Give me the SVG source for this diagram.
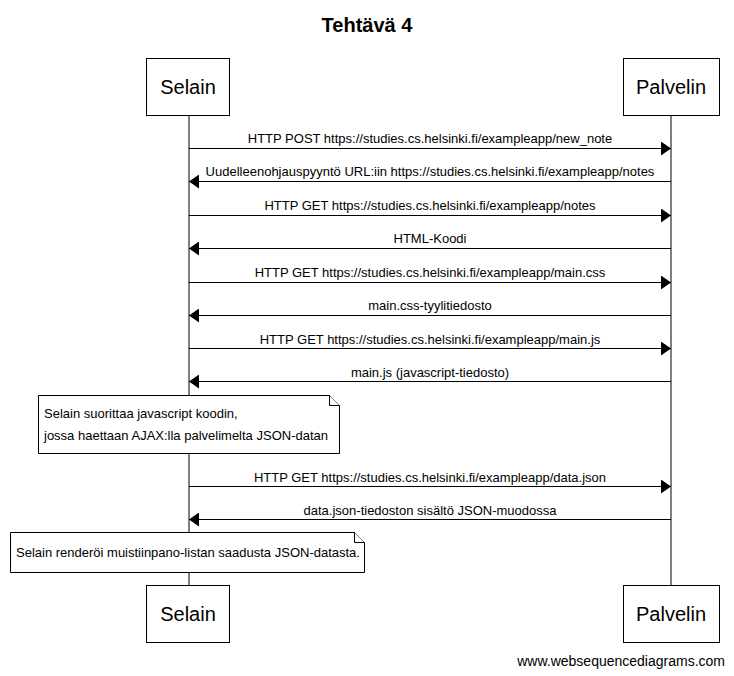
<svg xmlns="http://www.w3.org/2000/svg" width="734" height="676" viewBox="0 0 734 676">
<style>
text{font-family:"Liberation Sans",Arial,sans-serif;fill:#000}
.box{fill:#fff;stroke:#000;stroke-width:1}
.life{stroke:#000;stroke-width:1}
.msg{stroke:#000;stroke-width:1;fill:none}
.lbl{font-size:13px;text-anchor:middle}
.pn{font-size:20px;text-anchor:middle}
.note{fill:#fff;stroke:#000;stroke-width:1}
.nt{font-size:13px}
</style>
<defs>
<marker id="ah" viewBox="0 0 10 14" refX="10" refY="7" markerWidth="10" markerHeight="14" markerUnits="userSpaceOnUse" orient="auto">
<path d="M0,0 L10,7 L0,14 Z" fill="#000"/>
</marker>
</defs>
<rect width="734" height="676" fill="#fff"/>
<text x="367" y="32" font-size="20" font-weight="bold" text-anchor="middle">Tehtävä 4</text>
<g id="lifelines">
<line class="life" x1="189" y1="115" x2="189" y2="585"/>
<line class="life" x1="671" y1="115" x2="671" y2="585"/>
</g>
<g id="selain-top"><rect class="box" x="146.5" y="58.5" width="83" height="57"/><text class="pn" x="188" y="94">Selain</text></g>
<g id="palvelin-top"><rect class="box" x="623.5" y="58.5" width="96" height="57"/><text class="pn" x="671" y="94">Palvelin</text></g>
<g id="connectors">
<line class="msg" x1="189" y1="148.5" x2="671" y2="148.5" marker-end="url(#ah)"/>
<text class="lbl" x="430" y="143">HTTP POST https://studies.cs.helsinki.fi/exampleapp/new_note</text>
<line class="msg" x1="671" y1="181.5" x2="189" y2="181.5" marker-end="url(#ah)"/>
<text class="lbl" x="430" y="176">Uudelleenohjauspyyntö URL:iin https://studies.cs.helsinki.fi/exampleapp/notes</text>
<line class="msg" x1="189" y1="215.5" x2="671" y2="215.5" marker-end="url(#ah)"/>
<text class="lbl" x="430" y="210">HTTP GET https://studies.cs.helsinki.fi/exampleapp/notes</text>
<line class="msg" x1="671" y1="248.5" x2="189" y2="248.5" marker-end="url(#ah)"/>
<text class="lbl" x="430" y="243">HTML-Koodi</text>
<line class="msg" x1="189" y1="282.5" x2="671" y2="282.5" marker-end="url(#ah)"/>
<text class="lbl" x="430" y="277">HTTP GET https://studies.cs.helsinki.fi/exampleapp/main.css</text>
<line class="msg" x1="671" y1="315.5" x2="189" y2="315.5" marker-end="url(#ah)"/>
<text class="lbl" x="430" y="310">main.css-tyylitiedosto</text>
<line class="msg" x1="189" y1="348.5" x2="671" y2="348.5" marker-end="url(#ah)"/>
<text class="lbl" x="430" y="344">HTTP GET https://studies.cs.helsinki.fi/exampleapp/main.js</text>
<line class="msg" x1="671" y1="381.5" x2="189" y2="381.5" marker-end="url(#ah)"/>
<text class="lbl" x="430" y="377">main.js (javascript-tiedosto)</text>
<line class="msg" x1="189" y1="486.5" x2="671" y2="486.5" marker-end="url(#ah)"/>
<text class="lbl" x="430" y="482">HTTP GET https://studies.cs.helsinki.fi/exampleapp/data.json</text>
<line class="msg" x1="671" y1="519.5" x2="189" y2="519.5" marker-end="url(#ah)"/>
<text class="lbl" x="430" y="515">data.json-tiedoston sisältö JSON-muodossa</text>
</g>
<g id="note1">
<path class="note" d="M38.5,395.5 H329.5 L339.5,405.5 V453.5 H38.5 Z"/>
<path class="note" d="M329.5,395.5 V405.5 H339.5" fill="none"/>
<text class="nt" x="44" y="418">Selain suorittaa javascript koodin,</text>
<text class="nt" x="44" y="440">jossa haettaan AJAX:lla palvelimelta JSON-datan</text>
</g>
<g id="note2">
<path class="note" d="M10.5,532.5 H354.5 L364.5,542.5 V572.5 H10.5 Z"/>
<path class="note" d="M354.5,532.5 V542.5 H364.5" fill="none"/>
<text class="nt" x="16" y="557">Selain renderöi muistiinpano-listan saadusta JSON-datasta.</text>
</g>
<g id="selain-bottom"><rect class="box" x="146.5" y="585.5" width="83" height="57"/><text class="pn" x="188" y="621">Selain</text></g>
<g id="palvelin-bottom"><rect class="box" x="623.5" y="585.5" width="96" height="57"/><text class="pn" x="671" y="621">Palvelin</text></g>
<text x="725" y="666" font-size="14" text-anchor="end">www.websequencediagrams.com</text>
</svg>
